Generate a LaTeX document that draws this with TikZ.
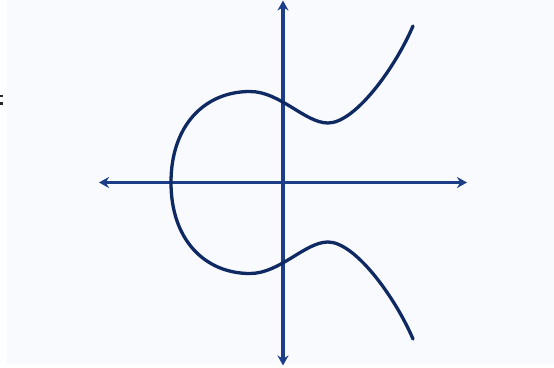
\documentclass[tikz,border=0pt]{standalone}
\usetikzlibrary{arrows.meta}
\definecolor{bgpanel}{HTML}{F8FAFD}
\definecolor{bgstrip}{HTML}{FDFEFF}
\definecolor{axiscol}{HTML}{1C3E88}
\definecolor{curvecol}{HTML}{0F2963}
\tikzset{
  axisline/.style={draw=axiscol, line width=3.5pt, {Stealth[length=10pt,width=11pt]}-{Stealth[length=10pt,width=11pt]}},
  curveline/.style={draw=curvecol, line width=3.3pt, line cap=round, line join=round},
}
\begin{document}
\begin{tikzpicture}[x=1pt,y=-1pt]
\useasboundingbox (0,0) rectangle (554,367);
\fill[bgstrip] (0,0) rectangle (554,367);
\fill[bgpanel] (7,0) rectangle (554,364);
% cropped mark at the left edge
\fill[black!85] (0,94.5) rectangle (3,97);
\fill[black!85] (0,102) rectangle (3,104.5);
% axes
\coordinate (xl) at (99,182.5);
\coordinate (xr) at (467,182.5);
\coordinate (yt) at (283,0.5);
\coordinate (yb) at (283,365.5);
\draw[axisline] (xl) -- (xr);
\draw[axisline] (yt) -- (yb);
% curve
\coordinate (ue) at (413,26);
\coordinate (umin) at (328,123);
\coordinate (utop) at (250,91.5);
\coordinate (left) at (171,182.5);
\coordinate (btop) at (250,273.5);
\coordinate (bmax) at (328,242);
\coordinate (be) at (413,339);
\draw[curveline] (ue) .. controls (395,68) and (355,123) .. (umin)
  .. controls (305,123) and (280,91.5) .. (utop)
  .. controls (205,91.5) and (171,125) .. (left)
  .. controls (171,240) and (205,273.5) .. (btop)
  .. controls (280,273.5) and (305,242) .. (bmax)
  .. controls (355,242) and (395,297) .. (be);
\end{tikzpicture}
\end{document}
